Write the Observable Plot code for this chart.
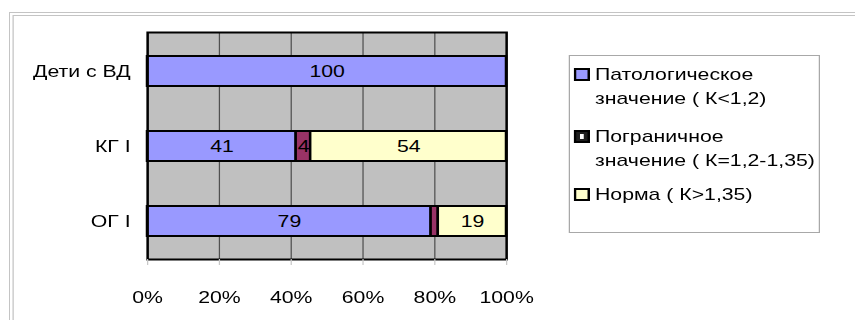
<!DOCTYPE html>
<html><head><meta charset="utf-8">
<script src="https://cdn.jsdelivr.net/npm/d3@7"></script>
<script src="https://cdn.jsdelivr.net/npm/@observablehq/plot@0.6"></script>
<style>
html,body{margin:0;padding:0;background:#fff;}
#stage{position:relative;width:684px;height:320px;transform:scaleX(1.25);transform-origin:0 0;font-family:"Liberation Sans",Arial,sans-serif;}
#frame{position:absolute;left:7px;top:12px;width:720px;height:340px;border-top:4px double #c4c4c4;border-left:4px double #c4c4c4;}
#chart{position:absolute;left:0;top:0;}
#legend{position:absolute;left:455px;top:55px;width:201px;height:178px;border:1px solid #a8a8a8;box-sizing:border-box;background:#fff;}
.item{position:absolute;left:20px;font-size:17px;line-height:24px;white-space:pre-line;color:#000;}
.sw{position:absolute;left:-17px;top:4.5px;width:13px;height:13px;border:2px solid #000;box-sizing:border-box;}
.slit{position:absolute;left:3px;top:2px;width:3px;height:5px;background:#fff;}
</style></head><body>
<div id="stage"><div id="frame"></div><div id="chart"></div><div id="legend"></div></div>
<script>
const categories = ["Дети с ВД", "КГ I", "ОГ I"];
const seriesNames = ["Патологическое значение ( К<1,2)", "Пограничное значение ( К=1,2-1,35)", "Норма ( К>1,35)"];
const pathological = [100, 41, 79];
const borderline = [0, 4, 2];
const norm = [0, 54, 19];
const seriesColors = ["#9999ff", "#993366", "#ffffcc"];
const tickValues = [0, 20, 40, 60, 80, 100];
const tickLabels = ["0%", "20%", "40%", "60%", "80%", "100%"];

const seriesValues = [pathological, borderline, norm];
const table = [];
categories.forEach((c, i) => {
  seriesNames.forEach((s, j) => {
    const v = seriesValues[j][i];
    if (v > 0) table.push({category: c, series: s, value: v});
  });
});
const ticks = tickValues.map(v => v / 100);
const fmt = d => tickLabels[tickValues.indexOf(Math.round(d * 100))];

const chart = Plot.plot({
  width: 684, height: 320,
  marginLeft: 117.6, marginRight: 279.2, marginTop: 32, marginBottom: 61,
  style: {fontFamily: "Liberation Sans, Arial, sans-serif", fontSize: "17px", background: "transparent", color: "black", overflow: "visible"},
  x: {domain: [0, 1], label: null},
  y: {domain: categories, paddingInner: 0.6, paddingOuter: 0.3, label: null},
  color: {domain: seriesNames, range: seriesColors},
  marks: [
    Plot.frame({fill: "#c0c0c0"}),
    Plot.gridX(ticks, {stroke: "#505050", strokeOpacity: 1}),
    Plot.barX(table, Plot.stackX({x: "value", y: "category", fill: "series", offset: "normalize", order: seriesNames, stroke: "black", strokeWidth: 2})),
    Plot.text(table, Plot.stackX({x: "value", y: "category", z: "series", offset: "normalize", order: seriesNames, text: d => d.value >= 3 ? String(d.value) : null, fontSize: 17, fill: "black"})),
    Plot.frame({stroke: "black", strokeWidth: 2}),
    Plot.axisY({tickSize: 0, tickPadding: 13.6, fontSize: 17}),
    Plot.axisX(ticks, {tickSize: 6, stroke: "#c8c8c8", tickFormat: () => ""}),
    Plot.axisX(ticks, {tickSize: 0, tickPadding: 31, tickFormat: fmt, fontSize: 17})
  ]
});
document.getElementById("chart").appendChild(chart);

const legend = document.getElementById("legend");
const itemTops = [7.4, 69.4, 127.4];
seriesNames.forEach((s, j) => {
  const it = document.createElement("div");
  it.className = "item";
  it.style.top = itemTops[j] + "px";
  it.textContent = s.replace(" значение", "\nзначение");
  const sw = document.createElement("div");
  sw.className = "sw";
  if (j === 1) {
    sw.style.background = "#1e1e1e";
    const sl = document.createElement("div");
    sl.className = "slit";
    sw.appendChild(sl);
  } else {
    sw.style.background = seriesColors[j];
  }
  it.appendChild(sw);
  legend.appendChild(it);
});
</script>
</body></html>
